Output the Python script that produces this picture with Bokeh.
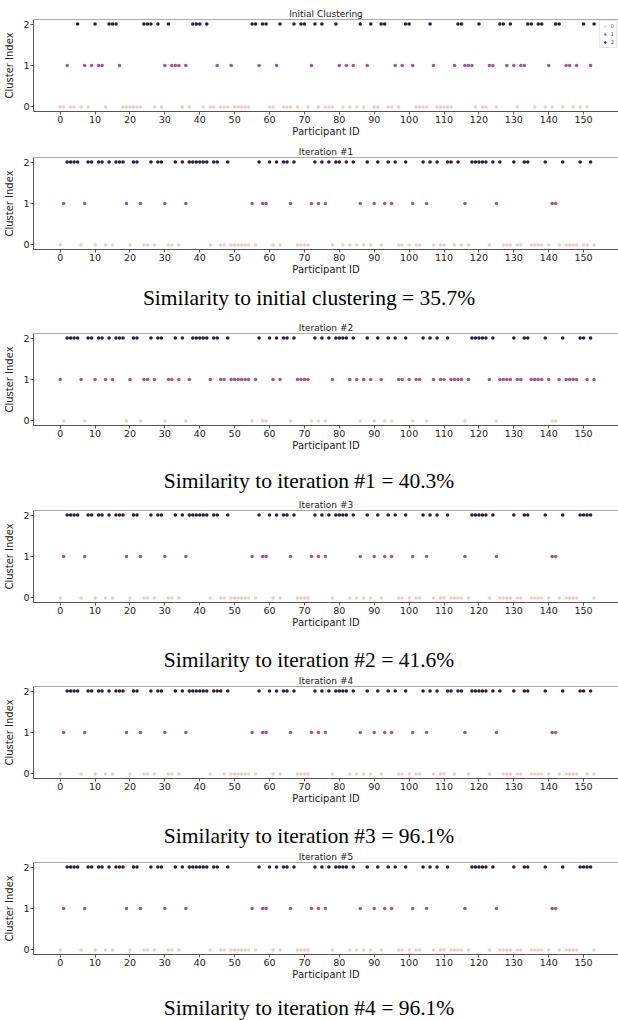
from bokeh.plotting import figure
from bokeh.models import Range1d, FixedTicker, Span, Div, Legend, LegendItem, ColumnDataSource
from bokeh.layouts import column
from bokeh.embed import file_html
from bokeh.resources import INLINE

participant_ids = list(range(154))

initial = [0,0,1,0,0,2,0,1,0,1, 2,1,1,0,2,2,2,1,0,0, 0,0,0,0,2,2,2,0,2,0,
           1,2,1,1,1,0,1,0,2,2, 2,0,2,0,0,1,0,0,0,1, 0,0,0,0,0,2,2,1,2,2,
           0,0,1,2,0,0,0,2,0,2, 2,0,1,2,0,2,0,0,0,2, 1,0,1,0,1,0,2,0,1,2,
           0,0,2,2,0,0,1,0,1,2, 2,1,0,0,0,0,2,1,0,0, 0,0,0,1,2,2,1,1,1,0,
           2,0,0,1,1,0,2,2,1,2, 1,0,1,1,2,2,0,2,2,0, 1,0,2,2,0,1,1,0,1,0,
           2,0,1,2]

iteration_1 = [0,1,2,2,2,2,0,1,2,2, 0,2,2,0,2,0,2,2,2,1, 0,2,2,1,0,0,2,0,2,2,
               1,0,0,2,0,2,1,2,2,2, 2,2,2,0,2,2,0,0,2,0, 0,0,0,0,0,1,0,2,1,1,
               2,0,2,0,2,2,1,2,0,0, 0,0,1,2,1,2,1,2,0,2, 2,0,2,0,2,0,1,0,2,0,
               1,2,0,1,2,1,2,0,0,2, 0,1,0,0,2,1,2,0,2,0, 0,2,2,0,2,0,1,0,2,2,
               2,2,2,0,2,1,2,0,0,0, 2,0,0,2,2,0,0,0,0,2, 0,1,1,0,2,0,0,0,0,2,
               0,0,2,0]

iteration_2 = [1,0,2,2,2,2,1,0,2,2, 1,2,2,1,2,1,2,2,2,0, 1,2,2,0,1,1,2,1,2,2,
               0,1,1,2,1,2,0,1,2,2, 2,2,2,1,2,2,1,1,2,1, 1,1,1,1,1,0,1,2,0,0,
               2,1,2,1,2,2,0,2,1,1, 1,1,0,2,0,2,0,2,1,2, 2,2,2,1,2,1,0,1,2,1,
               0,2,1,0,2,0,2,1,1,2, 1,0,1,1,2,0,2,1,2,1, 1,2,1,1,1,1,0,1,2,2,
               2,2,2,1,2,0,1,1,1,1, 2,1,1,2,2,1,1,1,1,2, 1,0,0,1,2,1,1,1,1,2,
               2,1,2,1]

iteration_3 = [0,1,2,2,2,2,0,1,2,2, 0,2,2,0,2,0,2,2,2,1, 0,2,2,1,0,0,2,0,2,2,
               1,0,0,2,0,2,1,2,2,2, 2,2,2,0,2,2,0,0,2,0, 0,0,0,0,0,1,0,2,1,1,
               2,0,2,0,2,2,1,2,0,0, 0,0,1,2,1,2,1,2,0,2, 2,2,2,0,2,0,1,0,2,0,
               1,2,0,1,2,1,2,0,0,2, 0,1,0,0,2,1,2,0,2,0, 0,2,0,0,0,0,1,0,2,2,
               2,2,2,0,2,1,0,0,0,0, 2,0,0,2,2,0,0,0,0,2, 0,1,1,0,2,0,0,0,0,2,
               2,2,2,0]

iteration_4 = [0,1,2,2,2,2,0,1,2,2, 0,2,2,0,2,0,2,2,2,1, 0,2,2,1,0,0,2,0,2,2,
               1,0,0,2,0,2,1,2,2,2, 2,2,2,0,2,2,2,0,2,0, 0,0,0,0,0,1,0,2,1,1,
               2,0,2,0,2,2,1,2,0,0, 0,0,1,2,1,2,1,2,0,2, 2,2,2,0,2,0,1,0,2,0,
               1,2,0,1,2,1,2,0,0,2, 0,1,0,0,2,1,2,0,2,0, 0,2,2,0,2,2,1,0,2,2,
               2,2,2,0,2,1,2,0,0,0, 2,0,0,2,2,0,0,0,0,2, 0,1,1,0,2,0,0,0,0,2,
               2,0,2,0]

iteration_5 = [0,1,2,2,2,2,0,1,2,2, 0,2,2,0,2,0,2,2,2,1, 0,2,2,1,0,0,2,0,2,2,
               1,0,0,2,0,2,1,2,2,2, 2,2,2,0,2,2,0,0,2,0, 0,0,0,0,0,1,0,2,1,1,
               2,0,2,0,2,2,1,2,0,0, 0,0,1,2,1,2,1,2,0,2, 2,2,2,0,2,0,1,0,2,0,
               1,2,0,1,2,1,2,0,0,2, 0,1,0,0,2,1,2,0,2,0, 0,2,0,0,0,0,1,0,2,2,
               2,2,2,0,2,1,0,0,0,0, 2,0,0,2,2,0,0,0,0,2, 0,1,1,0,2,0,0,0,0,2,
               2,2,2,0]

panel_titles = ["Initial Clustering", "Iteration #1", "Iteration #2",
                "Iteration #3", "Iteration #4", "Iteration #5"]
similarity_texts = ["Similarity to initial clustering = 35.7%",
                    "Similarity to iteration #1 = 40.3%",
                    "Similarity to iteration #2 = 41.6%",
                    "Similarity to iteration #3 = 96.1%",
                    "Similarity to iteration #4 = 96.1%"]
cluster_values = [0, 1, 2]
cluster_names = ["0", "1", "2"]
cluster_colors = ["#efcec6", "#a5598a", "#2d1e3e"]
x_ticks = [0, 10, 20, 30, 40, 50, 60, 70, 80, 90, 100, 110, 120, 130, 140, 150]
y_ticks = [0, 1, 2]

assignments = [initial, iteration_1, iteration_2, iteration_3, iteration_4, iteration_5]

FONT = "DejaVu Sans"
SPINE = "#555555"
W = 618
FRAME_H = 92

# (top border, bottom border) per panel, and (height, padding) per caption
panel_borders = [(19, 33), (13, 28), (13, 28), (13, 28), (13, 28), (13, 28)]
caption_boxes = [(43, 9), (44, 16), (43, 18), (43, 18), (38, 14)]


def make_panel(title, labels, top, bottom, legend=False):
    p = figure(width=W, height=top + FRAME_H + bottom,
               x_range=Range1d(-7.65, 160.0), y_range=Range1d(-0.11, 2.11),
               output_backend="svg", toolbar_location=None,
               min_border_left=33, min_border_right=0,
               min_border_top=top, min_border_bottom=bottom, title=title)
    p.title.align = "center"
    p.title.text_font = FONT
    p.title.text_font_size = "9px"
    p.title.text_font_style = "normal"
    p.title.text_color = "#222222"
    p.title.standoff = 1
    p.grid.visible = False
    p.outline_line_color = None
    p.background_fill_color = "white"
    p.border_fill_color = "white"
    p.add_layout(Span(location=2.11, dimension="width", line_color=SPINE, line_width=1))

    p.xaxis.ticker = FixedTicker(ticks=x_ticks)
    p.yaxis.ticker = FixedTicker(ticks=y_ticks)
    p.xaxis.axis_label = "Participant ID"
    p.yaxis.axis_label = "Cluster Index"
    for ax in p.axis:
        ax.axis_line_color = SPINE
        ax.major_tick_line_color = SPINE
        ax.major_tick_out = 3
        ax.major_tick_in = 0
        ax.minor_tick_line_color = None
        ax.major_label_text_font = FONT
        ax.major_label_text_font_size = "9.5px"
        ax.major_label_text_color = "#222222"
        ax.major_label_standoff = 1
        ax.axis_label_text_font = FONT
        ax.axis_label_text_font_size = "10px"
        ax.axis_label_text_font_style = "normal"
        ax.axis_label_text_color = "#222222"
    p.xaxis.axis_label_standoff = 0
    p.yaxis.axis_label_standoff = 5

    items = []
    for cv, name, col in zip(cluster_values, cluster_names, cluster_colors):
        xs = [pid for pid, lab in zip(participant_ids, labels) if lab == cv]
        ys = [lab for lab in labels if lab == cv]
        src = ColumnDataSource(dict(x=xs, y=ys))
        r = p.scatter("x", "y", source=src, size=3.6, fill_color=col, line_color=None)
        items.append(LegendItem(label=name, renderers=[r]))
    if legend:
        lg = Legend(items=items, location="top_right", label_text_font_size="5px",
                    label_text_font=FONT, glyph_width=6, glyph_height=6,
                    label_height=6, label_width=3, label_standoff=3, spacing=2,
                    padding=2, margin=1, border_line_color="#cccccc",
                    background_fill_alpha=0.9)
        p.add_layout(lg)
    return p


def make_text(txt, height, pad):
    html = ('<div style="width:%dpx;text-align:center;font-family:\'Liberation Serif\',serif;'
            'font-size:21.5px;line-height:24px;padding-top:%dpx;color:#000;white-space:nowrap;">%s</div>'
            % (W, pad, txt))
    return Div(text=html, width=W, height=height, margin=(0, 0, 0, 0))


items = []
t, b = panel_borders[0]
items.append(make_panel(panel_titles[0], assignments[0], t, b, legend=True))
for i in range(1, 6):
    t, b = panel_borders[i]
    items.append(make_panel(panel_titles[i], assignments[i], t, b))
    h, pad = caption_boxes[i - 1]
    items.append(make_text(similarity_texts[i - 1], h, pad))

layout = column(*items, spacing=0)
open("out.html", "w").write(file_html(layout, INLINE))
